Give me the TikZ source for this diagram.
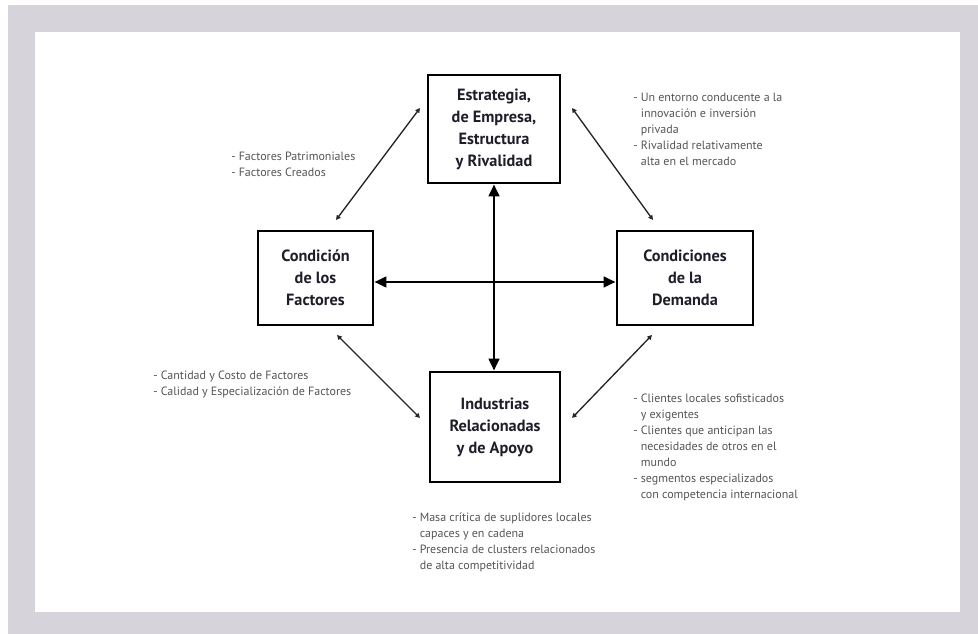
\documentclass[tikz,border=0pt]{standalone}
\usepackage{fontspec}
\setmainfont{PT Sans}
\usetikzlibrary{arrows.meta}
\definecolor{bggray}{HTML}{D6D4DA}
\definecolor{txtgray}{HTML}{555555}
\definecolor{boxtxt}{HTML}{1E1E2A}
\newcommand{\ind}{\phantom{-\ }}
\tikzset{
  x=0.75pt, y=-0.75pt,
  factor/.style={draw=black, line width=2.2pt, fill=white, align=center, text=boxtxt,
    font=\bfseries\fontsize{12.2}{16.5}\selectfont, inner sep=0pt},
  note/.style={align=left, text=txtgray, anchor=north west, inner sep=0pt,
    font=\fontsize{9}{12}\selectfont},
  bigarrow/.style={line width=1.9pt, {Triangle[length=9pt,width=8pt]}-{Triangle[length=9pt,width=8pt]}},
  smallarrow/.style={line width=1pt, black!85, {Triangle[length=3.5pt,width=3.5pt]}-{Triangle[length=3.5pt,width=3.5pt]}}
}
\begin{document}
\begin{tikzpicture}
\useasboundingbox (0,0) rectangle (978,634);
\fill[white] (0,0) rectangle (978,634);
\fill[bggray] (8,5) rectangle (978,634);
\fill[white] (35,32) rectangle (960,612);

\node[factor, minimum width=99pt, minimum height=81pt] (est) at (494,129)
  {Estrategia,\\de Empresa,\\Estructura\\y Rivalidad};
\node[factor, minimum width=86.25pt, minimum height=70.5pt] (fac) at (315.5,278)
  {Condición\\de los\\Factores};
\node[factor, minimum width=102pt, minimum height=70.5pt] (dem) at (685,278)
  {Condiciones\\de la\\Demanda};
\node[factor, minimum width=97.5pt, minimum height=82.5pt] (ind) at (495,427)
  {Industrias\\Relacionadas\\y de Apoyo};

\draw[bigarrow] (est.south) -- (est.south |- ind.north);
\draw[bigarrow] (fac.east |- 0,282) -- (dem.west |- 0,282);

\coordinate (tl1) at (336,220); \coordinate (tl2) at (420,108);
\coordinate (tr1) at (572,108); \coordinate (tr2) at (653,220);
\coordinate (bl1) at (337,335); \coordinate (bl2) at (420,418);
\coordinate (br1) at (652,335); \coordinate (br2) at (572,418);
\draw[smallarrow] (tl1) -- (tl2);
\draw[smallarrow] (tr1) -- (tr2);
\draw[smallarrow] (bl1) -- (bl2);
\draw[smallarrow] (br1) -- (br2);

\node[note] (ntl) at (231,152) {- Factores Patrimoniales\\- Factores Creados};
\node[note] (ntr) at (633,93) {- Un entorno conducente a la\\\ind innovación e inversión\\\ind privada\\- Rivalidad relativamente\\\ind alta en el mercado};
\node[note] (nbl) at (153,371) {- Cantidad y Costo de Factores\\- Calidad y Especialización de Factores};
\node[note] (nbr) at (633,394) {- Clientes locales sofisticados\\\ind y exigentes\\- Clientes que anticipan las\\\ind necesidades de otros en el\\\ind mundo\\- segmentos especializados\\\ind con competencia internacional};
\node[note] (nbo) at (412,513) {- Masa crítica de suplidores locales\\\ind capaces y en cadena\\- Presencia de clusters relacionados\\\ind de alta competitividad};
\end{tikzpicture}
\end{document}
